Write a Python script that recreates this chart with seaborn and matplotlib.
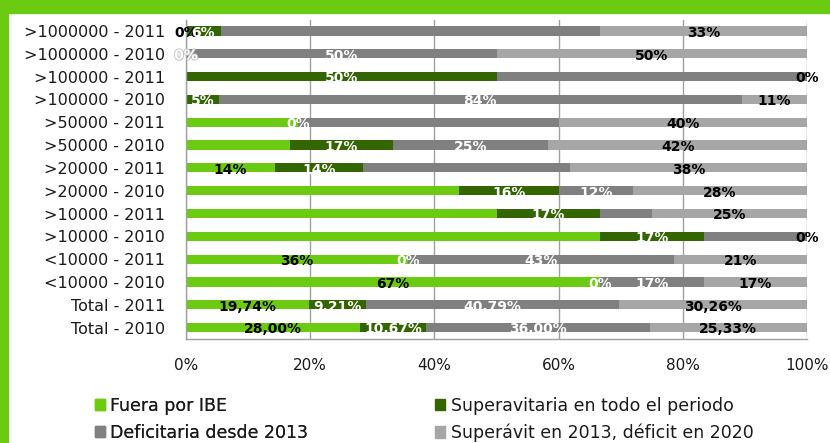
import matplotlib
matplotlib.use("Agg")
import matplotlib.pyplot as plt
import matplotlib.patches as mpatches
import matplotlib.patheffects as pe
from matplotlib.ticker import PercentFormatter
import numpy as np
import pandas as pd
import seaborn as sns

# Data (percent of each group)
categories = [
    ">1000000 - 2011", ">1000000 - 2010", ">100000 - 2011", ">100000 - 2010",
    ">50000 - 2011", ">50000 - 2010", ">20000 - 2011", ">20000 - 2010",
    ">10000 - 2011", ">10000 - 2010", "<10000 - 2011", "<10000 - 2010",
    "Total - 2011", "Total - 2010",
]
series_names = [
    "Fuera por IBE",
    "Superavitaria en todo el periodo",
    "Deficitaria desde 2013",
    "Superávit en 2013, déficit en 2020",
]
fuera = [0, 0, 0, 0, 18, 16.67, 14.29, 44, 50, 66.67, 35.71, 66.67, 19.74, 28.00]
superavitaria = [5.56, 0, 50, 5.26, 0, 16.67, 14.29, 16, 16.67, 16.67, 0, 0, 9.21, 10.67]
deficitaria = [61.11, 50, 50, 84.21, 42, 25, 33.33, 12, 8.33, 16.67, 42.86, 16.67, 40.79, 36.00]
superavit_deficit = [33.33, 50, 0, 10.53, 40, 41.67, 38.10, 28, 25, 0, 21.43, 16.67, 30.26, 25.33]

# Data labels as shown in the chart ("" = label not shown)
lab_fuera = ["0%", "", "", "", "", "", "14%", "", "", "", "36%", "67%", "19,74%", "28,00%"]
lab_superavitaria = ["6%", "0%", "50%", "5%", "0%", "17%", "14%", "16%", "17%", "17%",
                     "0%", "0%", "9,21%", "10,67%"]
lab_deficitaria = ["", "50%", "", "84%", "", "25%", "", "12%", "", "", "43%", "17%",
                   "40,79%", "36,00%"]
lab_superavit_deficit = ["33%", "50%", "0%", "11%", "40%", "42%", "38%", "28%", "25%", "0%",
                         "21%", "17%", "30,26%", "25,33%"]

colors = ["#6acb10", "#336600", "#808080", "#a6a6a6"]
label_colors = ["black", "white", "white", "black"]
frame_green = "#6acb10"

sns.set_style("white")
plt.rcParams["font.family"] = ["DejaVu Sans"]

df = pd.DataFrame({
    "category": categories,
    "s0": fuera,
    "s1": superavitaria,
    "s2": deficitaria,
    "s3": superavit_deficit,
})
cols = ["s0", "s1", "s2", "s3"]
cum = df[cols].cumsum(axis=1)

fig = plt.figure(figsize=(8.3, 4.43), dpi=100)
ax = fig.add_axes([0.2241, 0.2348, 0.7482, 0.7210])

# stacked bars: draw cumulative totals from the back to the front
for i in reversed(range(4)):
    sns.barplot(data=cum.assign(category=df["category"]), x=cols[i], y="category",
                order=categories, orient="h", color=colors[i], width=0.4,
                linewidth=0, saturation=1, ax=ax)

ax.set_xlim(0, 100)
ax.set_ylim(len(categories) - 0.5, -0.5)
ax.set_xlabel("")
ax.set_ylabel("")

# data labels centred on each segment
labels = [lab_fuera, lab_superavitaria, lab_deficitaria, lab_superavit_deficit]
for i, col in enumerate(cols):
    starts = cum[col] - df[col]
    for j in range(len(categories)):
        txt = labels[i][j]
        if not txt:
            continue
        xc = starts[j] + df[col][j] / 2
        t = ax.text(xc, j + 0.08, txt, ha="center", va="center", fontsize=10,
                    fontweight="bold", color=label_colors[i], zorder=5, clip_on=False)
        # white label sitting on the empty start of a bar: faint outline as in Excel
        if label_colors[i] == "white" and cum[col][j] == 0:
            t.set_path_effects([pe.withStroke(linewidth=1.2, foreground="#bdbdbd")])

# axes styling (Excel look)
ax.set_axisbelow(True)
ax.xaxis.grid(True, color="#a0a0a0", linewidth=1)
ax.yaxis.grid(False)
ax.set_xticks([0, 20, 40, 60, 80, 100])
ax.xaxis.set_major_formatter(PercentFormatter(decimals=0))
for side in ["top", "right"]:
    ax.spines[side].set_visible(False)
for side in ["left", "bottom"]:
    ax.spines[side].set_color("#a0a0a0")
    ax.spines[side].set_linewidth(1)
ax.tick_params(axis="x", direction="out", length=5, width=1, color="#a0a0a0",
               pad=9, labelsize=11, labelcolor="#1a1a1a")
ax.tick_params(axis="y", which="major", length=0, pad=15, labelsize=11.5,
               labelcolor="#1a1a1a")
ax.set_yticks(np.arange(-0.5, len(categories), 1), minor=True)
ax.tick_params(axis="y", which="minor", direction="out", length=5, width=1,
               color="#a0a0a0")

# legend in two columns
handles = [mpatches.Patch(color=c, label=n) for c, n in zip(colors, series_names)]
leg_kw = dict(frameon=False, fontsize=12.5, handlelength=0.6, handleheight=0.6,
              handletextpad=0.3, labelspacing=0.5, loc="upper left",
              borderaxespad=0, borderpad=0, labelcolor="#1a1a1a")
leg1 = fig.legend(handles=[handles[0], handles[2]], bbox_to_anchor=(0.114, 0.104),
                  **leg_kw)
fig.legend(handles=[handles[1], handles[3]], bbox_to_anchor=(0.524, 0.104),
           **leg_kw)
fig.add_artist(leg1)

# green frame (top and left edges as in the reference crop)
fig.patches.append(mpatches.Rectangle((0, 1 - 13 / 443), 1, 13 / 443,
                                      transform=fig.transFigure, color=frame_green,
                                      zorder=10))
fig.patches.append(mpatches.Rectangle((0, 0), 8 / 830, 1, transform=fig.transFigure,
                                      color=frame_green, zorder=10))

fig.savefig("out.png", dpi=100)
plt.close(fig)
